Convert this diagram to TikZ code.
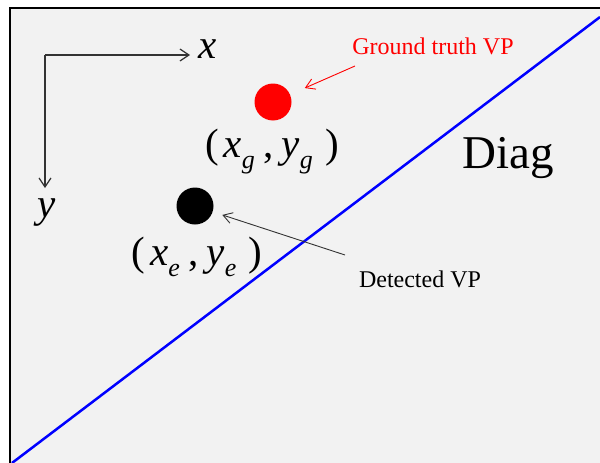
\documentclass[tikz,border=0pt]{standalone}
\usepackage{fontspec}
\setmainfont{Liberation Serif}
\newfontfamily\labelfont{Liberation Serif}
\usetikzlibrary{arrows.meta}
\definecolor{panelgray}{HTML}{F2F2F2}
\newcommand{\vpsub}[1]{\raisebox{-0.28em}{\fontsize{26}{28}\selectfont\textit{#1}}}
\newcommand{\vpcoord}[1]{(\kern0.12em\textit{x}\vpsub{#1}\kern0.2em,\kern0.2em\textit{y}\vpsub{#1}\kern0.3em)}

\begin{document}
\begin{tikzpicture}[x=1pt, y=-1pt,
    axis/.style={draw=black!80, line width=1.2pt, -{Straight Barb[length=9pt,width=12pt]}},
    pointer/.style={line width=0.9pt, -{Straight Barb[length=9pt,width=11pt]}},
    vp/.style={circle, minimum size=37pt, inner sep=0pt},
    big/.style={font=\labelfont\fontsize{41}{44}\selectfont, inner sep=0pt, anchor=base},
    small/.style={font=\labelfont\fontsize{24}{28}\selectfont, inner sep=0pt, anchor=base}]
    \useasboundingbox (0,0) rectangle (600,463);
    \clip (0,0) rectangle (600,463);
    \draw[fill=panelgray, line width=2pt] (10,8) rectangle (620,480);
    % image diagonal
    \draw[blue, line width=2.5pt] (12,463) -- (600,17);
    \node[big, font=\labelfont\fontsize{47}{50}\selectfont] (diag) at (508,168) {Diag};
    % axes
    \coordinate (o) at (45,55);
    \coordinate (xend) at (190,55);
    \coordinate (yend) at (45,188);
    \draw[axis] (o) -- (xend);
    \draw[axis] (o) -- (yend);
    \node[big] (xlab) at (208,58) {\textit{x}};
    \node[big] (ylab) at (47,217) {\textit{y}};
    % vanishing points
    \node[vp, fill=red] (gt) at (273,102) {};
    \node[vp, fill=black] (det) at (195,206) {};
    \node[big] (gtlab) at (272,157) {\vpcoord{g}};
    \node[big] (detlab) at (197,265) {\vpcoord{e}};
    % pointers
    \node[small, text=red] (gttext) at (433,54) {Ground truth VP};
    \node[small] (dettext) at (420,287) {Detected VP};
    \coordinate (gttail) at (355,66);
    \coordinate (dettail) at (345,255);
    \draw[pointer, red, shorten >=16pt] (gttail) -- (gt);
    \draw[pointer, black!80, shorten >=10pt] (dettail) -- (det);
\end{tikzpicture}
\end{document}
